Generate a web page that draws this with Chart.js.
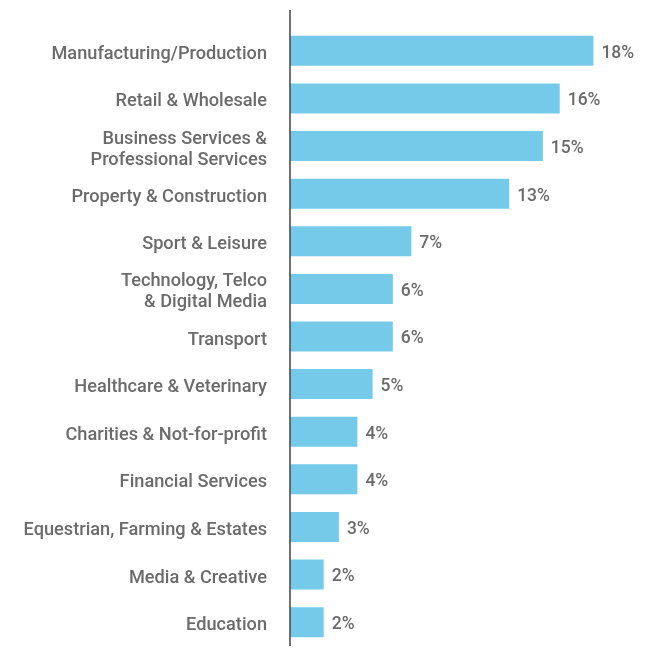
<!DOCTYPE html>
<html>
<head>
<meta charset="utf-8">
<script src="https://cdn.jsdelivr.net/npm/chart.js@4"></script>
<style>
  html, body { margin: 0; padding: 0; background: #fff; overflow: hidden; }
  canvas { display: block; }
</style>
</head>
<body>
<canvas id="canvas-1" width="653" height="652"></canvas>
<script>
const sectors = [
  "Manufacturing/Production",
  "Retail & Wholesale",
  ["Business Services &", "Professional Services"],
  "Property & Construction",
  "Sport & Leisure",
  ["Technology, Telco", "& Digital Media"],
  "Transport",
  "Healthcare & Veterinary",
  "Charities & Not-for-profit",
  "Financial Services",
  "Equestrian, Farming & Estates",
  "Media & Creative",
  "Education",
];
const shares = [18, 16, 15, 13, 7.2, 6.1, 6.1, 4.9, 4, 4, 2.9, 2, 2];
const shareLabels = ["18%", "16%", "15%", "13%", "7%", "6%", "6%", "5%", "4%", "4%", "3%", "2%", "2%"];

const textColor = "#6b6b6b";
const font = "Roboto";

// value text at the end of each bar + the vertical axis line
const barLabels = {
  id: "barLabels",
  afterDatasetsDraw(chart) {
    const ctx = chart.ctx;
    const meta = chart.getDatasetMeta(0);
    ctx.save();
    ctx.fillStyle = textColor;
    ctx.font = "500 17.5px " + font;
    ctx.textBaseline = "middle";
    ctx.textAlign = "left";
    meta.data.forEach((bar, i) => {
      ctx.fillText(shareLabels[i], bar.x + 8, bar.y + 2.5);
    });
    const x = chart.chartArea.left;
    ctx.strokeStyle = "#444";
    ctx.lineWidth = 1.5;
    ctx.beginPath();
    ctx.moveTo(x, 10);
    ctx.lineTo(x, chart.chartArea.bottom);
    ctx.stroke();
    ctx.restore();
  },
};

const ctx1 = document.querySelector("#canvas-1").getContext("2d");
const barChart = new Chart(ctx1, {
  type: "bar",
  data: {
    labels: sectors,
    datasets: [
      {
        data: shares,
        backgroundColor: "#75caea",
        borderWidth: 0,
        categoryPercentage: 1,
        barPercentage: 0.63,
      },
    ],
  },
  options: {
    indexAxis: "y",
    responsive: false,
    animation: false,
    layout: { padding: { top: 27, right: 9, bottom: 6, left: 0 } },
    plugins: {
      legend: { display: false },
      tooltip: { enabled: false },
    },
    scales: {
      x: {
        display: false,
        min: 0,
        max: 21,
      },
      y: {
        afterFit(axis) {
          axis.width = 290;
          axis.paddingTop = 0;
          axis.paddingBottom = 0;
        },
        grid: { display: false, drawTicks: false },
        border: { display: false },
        ticks: {
          color: textColor,
          padding: 23,
          labelOffset: 3.5,
          font: { family: font, size: 18.2, weight: "500", lineHeight: 1.15 },
        },
      },
    },
  },
  plugins: [barLabels],
});
</script>
</body>
</html>
